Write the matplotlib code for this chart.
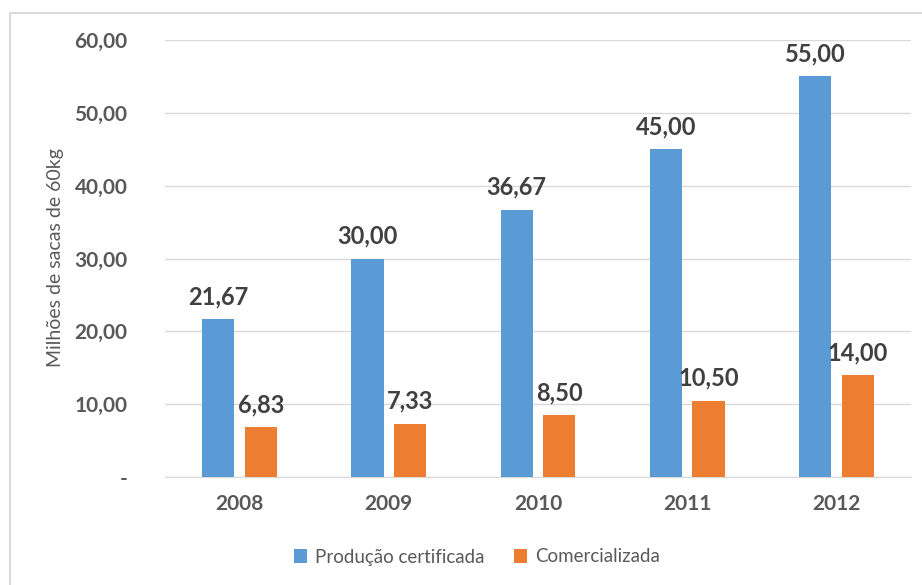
import numpy as np
import matplotlib.pyplot as plt
from matplotlib.patches import Rectangle

anos = ['2008', '2009', '2010', '2011', '2012']
producao = [21.67, 30.00, 36.67, 45.00, 55.00]
comercializada = [6.83, 7.33, 8.50, 10.50, 14.00]
yticks = [0, 10, 20, 30, 40, 50, 60]

def br(v):
    return ('%.2f' % v).replace('.', ',')

plt.rcParams['font.family'] = ['Lato', 'DejaVu Sans']

fig = plt.figure(figsize=(9.22, 5.85), dpi=100)
ax = fig.add_axes([0.179, 0.1846, 0.809, 0.747])

# borda do grafico (parcialmente cortada)
fig.patches.append(Rectangle((10/922, -0.05), 1.1, 1 - 13/585 + 0.05, transform=fig.transFigure,
                             fill=False, edgecolor='#d9d9d9', linewidth=1.5))

x = np.arange(len(anos))
w = 0.215
off = 0.143
b1 = ax.bar(x - off, producao, w, color='#5B9BD5', label='Produção certificada', zorder=3)
b2 = ax.bar(x + off, comercializada, w, color='#ED7D31', label='Comercializada', zorder=3)

for bars, vals in [(b1, producao), (b2, comercializada)]:
    for r, v in zip(bars, vals):
        ax.annotate(br(v), (r.get_x() + r.get_width()/2, v), xytext=(0, 8),
                    textcoords='offset points', ha='center', va='bottom',
                    fontsize=17, fontweight='bold', color='#404040')

ax.set_xlim(-0.5, 4.5)
ax.set_ylim(0, 60)
ax.set_yticks(yticks)
ax.set_yticklabels(['-' if t == 0 else br(t) for t in yticks])
ax.set_xticks(x)
ax.set_xticklabels(anos)
ax.tick_params(axis='both', length=0, labelsize=15, labelcolor='#595959')
ax.tick_params(axis='y', pad=27)
ax.tick_params(axis='x', pad=12)
for lab in ax.get_xticklabels() + ax.get_yticklabels():
    lab.set_fontweight('bold')

ax.grid(axis='y', color='#d9d9d9', linewidth=1, zorder=0)
for s in ['top', 'right', 'left']:
    ax.spines[s].set_visible(False)
ax.spines['bottom'].set_color('#d9d9d9')

fig.text(55/922, 1 - 258/585, 'Milhões de sacas de 60kg', rotation=90, ha='center', va='center',
         fontsize=14, color='#595959')

fig.legend(loc='center', bbox_to_anchor=(477/922, 1 - 557/585), ncol=2, frameon=False,
           fontsize=13.5, labelcolor='#595959', handlelength=0.7, handleheight=0.7,
           columnspacing=1.6, handletextpad=0.4)

fig.savefig('out.png', dpi=100)
